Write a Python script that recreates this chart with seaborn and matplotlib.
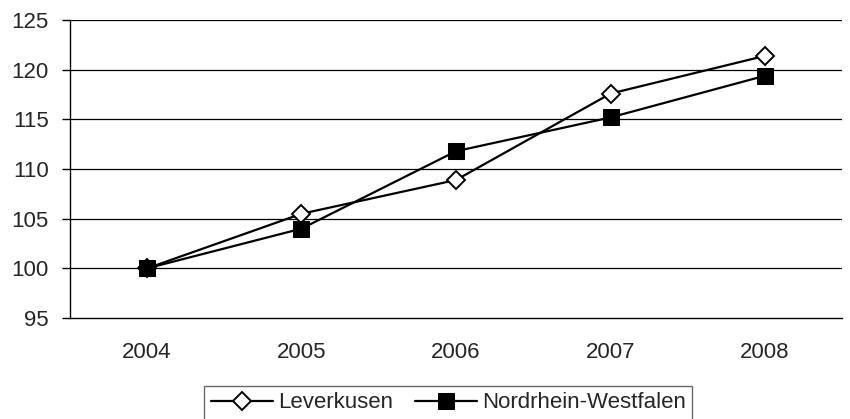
import pandas as pd
import numpy as np
import matplotlib.pyplot as plt
import seaborn as sns

years = ['2004', '2005', '2006', '2007', '2008']
leverkusen = [100.0, 105.5, 108.9, 117.6, 121.4]
nrw = [100.0, 104.0, 111.8, 115.2, 119.4]

df = pd.DataFrame({
    'pos': list(range(len(years))) * 2,
    'value': leverkusen + nrw,
    'series': ['Leverkusen'] * len(years) + ['Nordrhein-Westfalen'] * len(years),
})

sns.set_style('white')
plt.rcParams['font.family'] = ['Liberation Sans', 'DejaVu Sans']
fs = 16

fig = plt.figure(figsize=(8.5, 4.19), dpi=100)
ax = fig.add_axes([0.082, 0.241, 0.909, 0.711])

sns.lineplot(data=df[df['series'] == 'Leverkusen'], x='pos', y='value', ax=ax,
             color='black', lw=1.6, marker='D', markersize=9, markerfacecolor='white',
             markeredgecolor='black', markeredgewidth=1.4, label='Leverkusen')
sns.lineplot(data=df[df['series'] == 'Nordrhein-Westfalen'], x='pos', y='value', ax=ax,
             color='black', lw=1.6, marker='s', markersize=11, markerfacecolor='black',
             markeredgecolor='black', label='Nordrhein-Westfalen')

ax.set_xlim(-0.5, len(years) - 0.5)
ax.set_ylim(95, 125)
ax.set_yticks(range(95, 126, 5))
ax.set_yticklabels([str(v) for v in range(95, 126, 5)], fontsize=fs)
ax.set_xticks(range(len(years)))
ax.set_xticklabels(years, fontsize=fs)
ax.set_xticks(np.arange(-0.5, len(years), 1), minor=True)
ax.tick_params(axis='x', which='major', length=0, pad=17)
ax.tick_params(axis='x', which='minor', length=6, width=1, color='#555555', direction='out')
ax.tick_params(axis='y', length=6, width=1, color='black', direction='out', left=True, pad=9)
ax.set_xlabel('')
ax.set_ylabel('')

for y in range(100, 126, 5):
    ax.axhline(y, color='black', lw=0.9, zorder=0)

for s in ['top', 'right']:
    ax.spines[s].set_visible(False)
for s in ['left', 'bottom']:
    ax.spines[s].set_color('black')
    ax.spines[s].set_linewidth(1)

leg = ax.legend(loc='center', bbox_to_anchor=(0.49, -0.285), ncol=2, fontsize=fs,
                frameon=True, fancybox=False, edgecolor='#444444', handlelength=2.8,
                handletextpad=0.2, columnspacing=1.0, borderpad=0.3, borderaxespad=0)
leg.get_frame().set_linewidth(1)

fig.savefig('out.png', dpi=100)
